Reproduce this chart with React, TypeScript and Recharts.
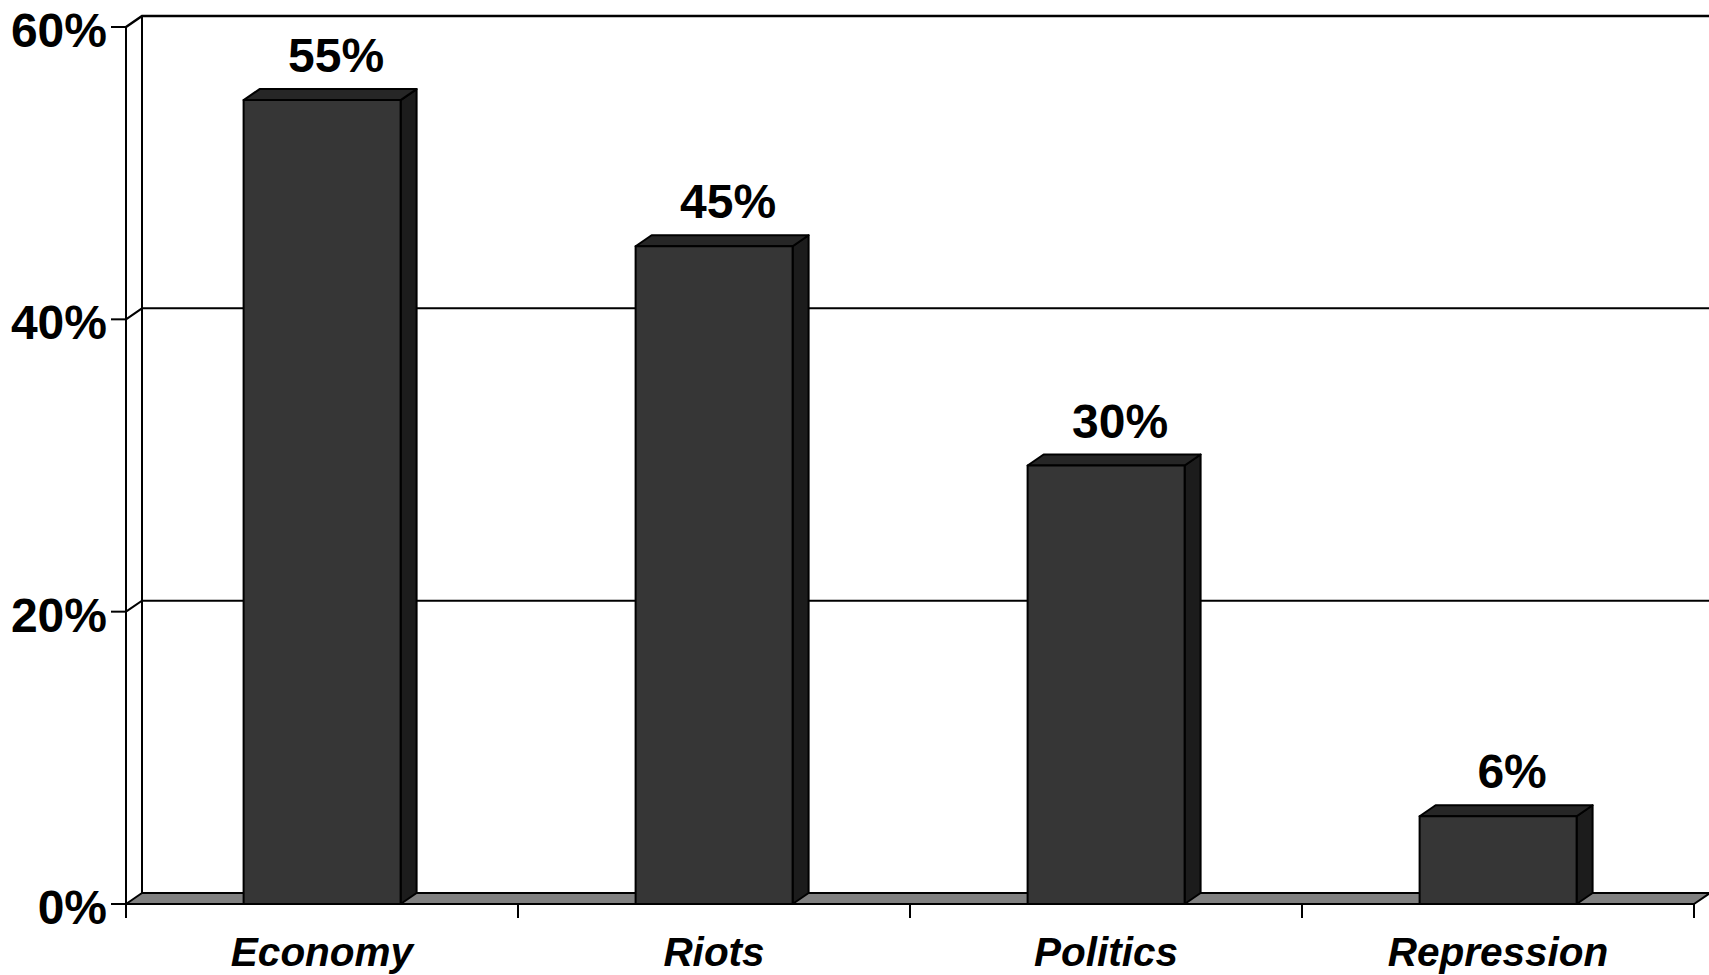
import React from "react";
import {
  BarChart,
  Bar,
  XAxis,
  YAxis,
  CartesianGrid,
  LabelList,
} from "recharts";

const categories = ["Economy", "Riots", "Politics", "Repression"];
const shares = [55, 45, 30, 6];
const yTicks = [0, 20, 40, 60];

const data = categories.map((name, i) => ({ name, value: shares[i] }));

const W = 1709;
const H = 975;
const MARGIN = { top: 27, right: 15, bottom: 0, left: 0 };
const Y_AXIS_W = 126;
const X_AXIS_H = 71;
const PLOT_BOTTOM = H - MARGIN.bottom - X_AXIS_H;
const PLOT_W = W - MARGIN.left - MARGIN.right - Y_AXIS_W;
const BAND = PLOT_W / categories.length;

// depth of the fake 3d
const DX = 16;
const DY = 11;
const FONT = '"Liberation Sans", Arial, Helvetica, sans-serif';

function GridLine(p: any) {
  const { x1, x2, y1 } = p;
  const top = p.y ?? MARGIN.top;
  const bottom = p.height != null ? p.y + p.height : PLOT_BOTTOM;
  if (Math.abs(y1 - bottom) < 1) {
    return (
      <polygon
        key={p.key}
        points={`${x1},${y1} ${x2},${y1} ${x2 + DX},${y1 - DY} ${x1 + DX},${y1 - DY}`}
        fill="#808080"
        stroke="#000"
        strokeWidth={2}
        strokeLinejoin="round"
      />
    );
  }
  return (
    <g key={p.key}>
      <path
        d={`M${x1},${y1} L${x1 + DX},${y1 - DY} L${x2 + DX},${y1 - DY}`}
        fill="none"
        stroke="#000"
        strokeWidth={Math.abs(y1 - top) < 1 ? 2.5 : 2}
      />
      {Math.abs(y1 - top) < 1 && (
        <line
          x1={x1 + DX}
          y1={y1 - DY}
          x2={x1 + DX}
          y2={bottom - DY}
          stroke="#000"
          strokeWidth={2}
        />
      )}
    </g>
  );
}

function Box3D(props: any) {
  const { x, y, width: w, height: h } = props;
  return (
    <g stroke="#000" strokeWidth={2} strokeLinejoin="round">
      <polygon
        points={`${x + w},${y} ${x + w + DX},${y - DY} ${x + w + DX},${y + h - DY} ${x + w},${y + h}`}
        fill="#1c1c1c"
      />
      <polygon
        points={`${x},${y} ${x + DX},${y - DY} ${x + w + DX},${y - DY} ${x + w},${y}`}
        fill="#262626"
      />
      <rect x={x} y={y} width={w} height={h} fill="#363636" />
    </g>
  );
}

function ValueLabel(props: any) {
  const { x, y, width, value } = props;
  return (
    <text
      x={x + width / 2 + 14}
      y={y - 28}
      textAnchor="middle"
      fontFamily={FONT}
      fontWeight="bold"
      fontSize={48}
      fill="#000"
    >
      {`${value}%`}
    </text>
  );
}

function CategoryTick(props: any) {
  const { x, y, payload, index } = props;
  const last = index === categories.length - 1;
  return (
    <g>
      <line x1={x - BAND / 2} y1={y} x2={x - BAND / 2} y2={y + 14} stroke="#000" strokeWidth={2} />
      {last && (
        <line x1={x + BAND / 2} y1={y} x2={x + BAND / 2} y2={y + 14} stroke="#000" strokeWidth={2} />
      )}
      <text
        x={x}
        y={y + 62}
        textAnchor="middle"
        fontFamily={FONT}
        fontWeight="bold"
        fontStyle="italic"
        fontSize={40.5}
        fill="#000"
      >
        {payload.value}
      </text>
    </g>
  );
}

function ValueTick(props: any) {
  const { x, y, payload } = props;
  return (
    <text
      x={x}
      y={y + 20}
      textAnchor="end"
      fontFamily={FONT}
      fontWeight="bold"
      fontSize={48}
      fill="#000"
    >
      {`${payload.value}%`}
    </text>
  );
}

export default function App() {
  return (
    <div style={{ width: W, height: H, background: "#fff" }}>
      <style>{`body{margin:0}`}</style>
      <BarChart width={W} height={H} data={data} margin={MARGIN} barCategoryGap="30%">
        <CartesianGrid vertical={false} horizontal={GridLine as any} stroke="#000" />
        <XAxis
          dataKey="name"
          height={X_AXIS_H}
          axisLine={{ stroke: "#000", strokeWidth: 2 }}
          tickLine={false}
          tickSize={0}
          tickMargin={0}
          tick={<CategoryTick />}
          interval={0}
        />
        <YAxis
          width={Y_AXIS_W}
          domain={[0, 60]}
          ticks={yTicks}
          axisLine={{ stroke: "#000", strokeWidth: 2 }}
          tickLine={{ stroke: "#000", strokeWidth: 2 }}
          tickSize={15}
          tickMargin={4}
          tick={<ValueTick />}
        />
        <Bar dataKey="value" shape={<Box3D />} isAnimationActive={false}>
          <LabelList dataKey="value" content={<ValueLabel />} />
        </Bar>
      </BarChart>
    </div>
  );
}
